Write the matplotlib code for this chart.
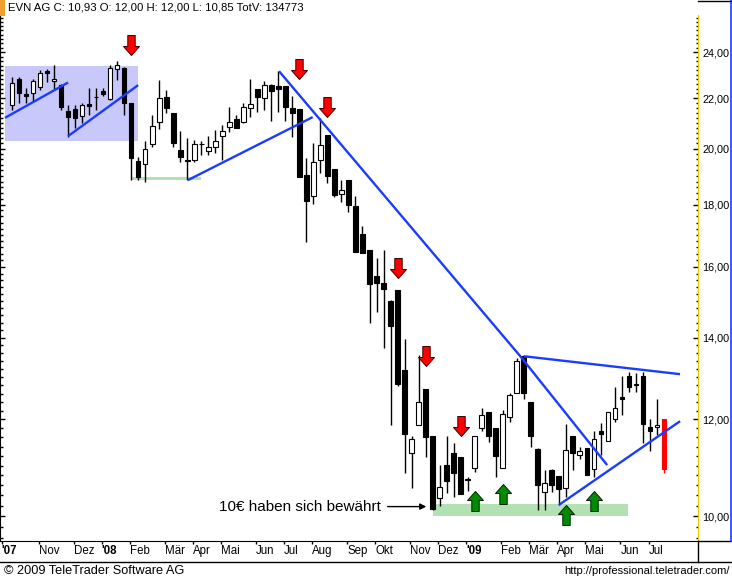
import numpy as np
import pandas as pd
import matplotlib
matplotlib.use("Agg")
import matplotlib.pyplot as plt
from matplotlib.path import Path
from matplotlib.lines import Line2D
from matplotlib.patches import Rectangle
from matplotlib.ticker import FixedLocator, FixedFormatter, NullFormatter

plt.rcParams['font.family'] = ['Liberation Sans', 'DejaVu Sans']

# EVN AG weekly candles, Oct 2007 - Jul 2009
opens = [21.71, 22.80, 22.17, 22.21, 22.46, 23.16, 22.72, 22.55, 21.47, 21.55,
         21.27, 21.75, 22.04, 22.29, 21.96, 23.24, 23.29, 21.79, 19.54, 19.43,
         20.18, 21.03, 22.05, 21.39, 19.95, 19.58, 19.58, 20.16, 19.91, 20.06,
         20.48, 20.83, 21.15, 21.03, 21.59, 22.38, 22.00, 22.55, 22.51, 22.51,
         21.59, 21.55, 19.03, 18.30, 19.58, 20.52, 19.25, 18.36, 18.85, 17.95,
         17.03, 16.53, 15.74, 15.53, 15.01, 15.33, 13.18, 11.27, 11.88, 12.71,
         11.62, 10.35, 11.02, 11.27, 11.18, 10.73, 10.95, 11.81, 12.18, 11.81,
         10.95, 12.06, 12.62, 13.53, 12.41, 11.35, 10.47, 10.91, 10.79, 10.55,
         11.62, 11.23, 11.37, 10.93, 11.73, 11.53, 12.01, 12.52, 13.03, 12.83,
         13.03, 11.84, 11.84, 12.00]
highs = [22.89, 22.89, 22.42, 22.80, 23.20, 23.24, 23.42, 22.59, 21.71, 21.71,
         21.79, 22.42, 22.42, 22.42, 23.42, 23.60, 23.33, 21.79, 19.69, 20.29,
         21.31, 22.76, 22.34, 21.39, 20.67, 20.41, 20.33, 20.29, 20.48, 20.71,
         20.91, 21.63, 21.31, 21.79, 22.80, 22.38, 22.72, 22.59, 23.16, 22.51,
         22.09, 21.55, 19.65, 20.22, 21.19, 20.52, 19.25, 18.85, 18.85, 18.30,
         17.29, 16.53, 16.28, 16.53, 15.04, 15.33, 13.97, 11.62, 13.56, 12.71,
         11.62, 11.02, 11.62, 11.48, 11.18, 10.77, 11.62, 12.27, 12.18, 11.81,
         12.22, 12.62, 13.48, 13.53, 12.41, 11.37, 10.91, 10.93, 10.79, 11.90,
         11.62, 11.40, 11.37, 11.75, 11.92, 12.18, 12.76, 13.03, 13.13, 13.11,
         13.13, 12.01, 12.48, 12.00]
lows = [21.51, 21.79, 21.79, 21.84, 22.34, 22.68, 22.34, 21.51, 20.44, 20.79,
        20.99, 21.31, 21.51, 22.09, 21.92, 22.76, 21.31, 18.85, 18.85, 18.78,
        20.06, 20.75, 21.39, 20.06, 19.50, 18.85, 19.50, 19.76, 19.76, 19.84,
        19.58, 20.63, 20.79, 20.99, 21.23, 21.43, 21.51, 21.07, 21.43, 21.07,
        20.44, 18.96, 16.78, 18.02, 19.10, 18.75, 18.26, 18.09, 17.75, 16.47,
        16.43, 14.40, 14.70, 13.74, 11.88, 12.79, 10.85, 10.55, 11.88, 11.18,
        10.12, 10.20, 10.45, 10.37, 10.43, 10.49, 10.87, 11.75, 11.51, 10.77,
        10.95, 11.95, 12.62, 12.48, 11.40, 10.12, 10.12, 10.47, 10.22, 10.37,
        10.91, 11.14, 10.81, 10.77, 11.23, 11.53, 11.95, 12.11, 12.64, 12.64,
        11.48, 11.31, 11.66, 10.85]
closes = [22.63, 22.21, 22.09, 22.72, 23.07, 23.07, 22.80, 21.63, 21.23, 21.19,
          21.71, 21.67, 22.06, 22.17, 23.29, 23.42, 21.79, 19.65, 18.96, 19.99,
          20.87, 22.00, 21.59, 20.22, 19.69, 19.54, 20.18, 20.18, 20.06, 20.29,
          20.67, 21.03, 20.79, 21.63, 21.75, 22.05, 22.55, 22.29, 22.38, 21.63,
          21.39, 18.96, 18.12, 19.50, 20.14, 18.99, 18.33, 18.50, 17.99, 16.47,
          16.43, 15.50, 15.53, 15.36, 14.32, 12.83, 11.68, 11.57, 12.40, 11.60,
          10.14, 10.57, 10.69, 10.85, 10.43, 10.71, 11.62, 12.11, 11.62, 11.21,
          12.13, 12.57, 13.40, 12.62, 11.62, 10.61, 10.65, 10.61, 10.53, 11.33,
          11.27, 11.31, 10.81, 11.57, 11.68, 12.18, 12.27, 12.48, 12.76, 12.80,
          11.90, 11.73, 11.88, 10.93]

month_labels = ["'07", "Nov", "Dez", "'08", "Feb", "Mär", "Apr", "Mai", "Jun", "Jul",
                "Aug", "Sep", "Okt", "Nov", "Dez", "'09", "Feb", "Mär", "Apr", "Mai",
                "Jun", "Jul"]
price_ticks = [10, 12, 14, 16, 18, 20, 22, 24]
price_labels = ["10,00", "12,00", "14,00", "16,00", "18,00", "20,00", "22,00", "24,00"]

# trend lines (week index, price)
trend_x = [[-1.0, 8.0], [8.0, 18.0], [25.1, 42.9], [38.1, 72.6, 84.9],
           [73.0, 95.3], [78.0, 95.3]]
trend_y = [[21.20, 22.66], [20.48, 22.55], [18.85, 21.23], [23.15, 13.50, 11.01],
           [13.52, 13.07], [10.21, 11.96]]

# marked zones: x from, x to, price low, price high
range_zone = [-1.0, 18.0, 20.29, 23.37]
support_zones = [[17.1, 27.0, 18.84, 18.97], [60.1, 87.9, 10.0, 10.23]]

sell_x = [17, 41, 45, 55, 59, 64]
sell_y = [24.32, 23.24, 21.63, 15.97, 13.52, 11.85]
buy_x = [66, 70, 79, 83]
buy_y = [10.29, 10.43, 10.02, 10.29]

note_text = "10€ haben sich bewährt"
note_from = (52.6, 10.18)
note_to = (59.1, 10.18)

weeks = pd.date_range('2007-10-05', periods=len(opens), freq='W-FRI')

W, H = 732, 580
fig = plt.figure(figsize=(W / 100, H / 100), dpi=100)
ax = fig.add_axes([0, 39 / H, 698 / W, 526 / H])
ax.set_yscale('log')

# zones
ax.fill_between(range_zone[:2], range_zone[2], range_zone[3], color='#C8C8FA', lw=0, zorder=1)
for z in support_zones:
    ax.fill_between(z[:2], z[2], z[3], color='#B4E1B4', lw=0, zorder=1)

# candles
x = np.arange(len(opens))
o = np.array(opens)
c = np.array(closes)
lo = np.minimum(o, c)
hi = np.maximum(o, c)
face = np.where(c >= o, 'white', 'black').astype(object)
face[-1] = 'red'
edge = np.array(['black'] * len(x), dtype=object)
edge[-1] = 'red'
ax.vlines(x, lows, highs, colors=list(edge), lw=1, zorder=3)
ax.bar(x, hi - lo, bottom=lo, width=0.66, color=list(face), edgecolor=list(edge),
       linewidth=0.8, zorder=4)

# trend lines
for tx, ty in zip(trend_x, trend_y):
    ax.plot(tx, ty, color='#1A3CFF', lw=1.7, zorder=5, solid_capstyle='butt')

# arrows
down = Path([(-3.7, 10), (3.7, 10), (3.7, -1), (8, -1), (0, -10), (-8, -1), (-3.7, -1), (-3.7, 10)],
            [Path.MOVETO] + [Path.LINETO] * 6 + [Path.CLOSEPOLY])
up = Path([(px, -py) for px, py in down.vertices], down.codes)
ax.plot(sell_x, sell_y, ls='none', marker=down, markersize=14.4, markerfacecolor='#FF0000',
        markeredgecolor='#3A0000', markeredgewidth=0.7, zorder=6)
ax.plot(buy_x, buy_y, ls='none', marker=up, markersize=14.4, markerfacecolor='#008C00',
        markeredgecolor='#002000', markeredgewidth=0.7, zorder=6)

ax.annotate(note_text, xy=note_to, xytext=note_from, ha='right', va='center', fontsize=11,
            arrowprops=dict(arrowstyle='-|>', color='black', lw=1, shrinkA=3, shrinkB=0,
                            mutation_scale=9), zorder=6)

# axes
ax.set_xlim(-1.71, 97.86)
ax.set_ylim(9.54, 25.74)
ax.yaxis.set_major_locator(FixedLocator(price_ticks))
ax.yaxis.set_major_formatter(FixedFormatter(price_labels))
ax.yaxis.set_minor_locator(FixedLocator(np.arange(9.6, 25.8, 0.2)))
ax.yaxis.set_minor_formatter(NullFormatter())
ax.tick_params(axis='y', which='both', left=True, right=True, labelleft=False,
               labelright=True, direction='in', labelsize=7.8, pad=3.2)
ax.tick_params(axis='y', which='major', length=3.5, width=1)
ax.tick_params(axis='y', which='minor', length=1.8, width=1)

month_key = weeks.to_period('M')
first_idx = [i for i in range(len(weeks)) if i == 0 or month_key[i] != month_key[i - 1]]
tick_pos = [i - 0.2 for i in first_idx]
tick_pos[0] = -1.45  # first label sits at the left edge
ax.set_xticks(tick_pos)
ax.set_xticklabels(month_labels)
for lab in ax.get_xticklabels():
    lab.set_ha('left')
    if lab.get_text().startswith("'"):
        lab.set_fontweight('bold')
ax.tick_params(axis='x', direction='out', length=2, width=1, labelsize=8.3, pad=1.2)

ax.spines['top'].set_visible(False)
ax.spines['right'].set_color('#F0C800')
ax.spines['bottom'].set_color('black')
ax.spines['left'].set_color('black')

# frame around the chart
def fx(px):
    return px / W

def fy(py):
    return 1 - py / H

fig.add_artist(Line2D([0, fx(732)], [fy(562), fy(562)], color='black', lw=1))
fig.add_artist(Line2D([fx(698), fx(731)], [fy(541), fy(541)], color='black', lw=1))
fig.add_artist(Line2D([fx(698), fx(698)], [fy(541), fy(562)], color='black', lw=1))
fig.add_artist(Line2D([fx(730.5), fx(730.5)], [fy(0), fy(541)], color='#1A3CFF', lw=1.2))
fig.add_artist(Line2D([fx(698), fx(732)], [fy(0.5), fy(0.5)], color='black', lw=1))
fig.add_artist(Rectangle((0, fy(16)), fx(5), 16 / H, color='#F0A030', lw=0))

fig.text(fx(8), fy(8), "EVN AG C: 10,93 O: 12,00 H: 12,00 L: 10,85 TotV: 134773",
         fontsize=8.2, va='center', ha='left')
fig.text(fx(4), fy(571), "© 2009 TeleTrader Software AG", fontsize=9.2, va='center', ha='left')
fig.text(fx(730), fy(571), "http://professional.teletrader.com/", fontsize=8.0,
         va='center', ha='right')

fig.savefig('out.png', dpi=100)
